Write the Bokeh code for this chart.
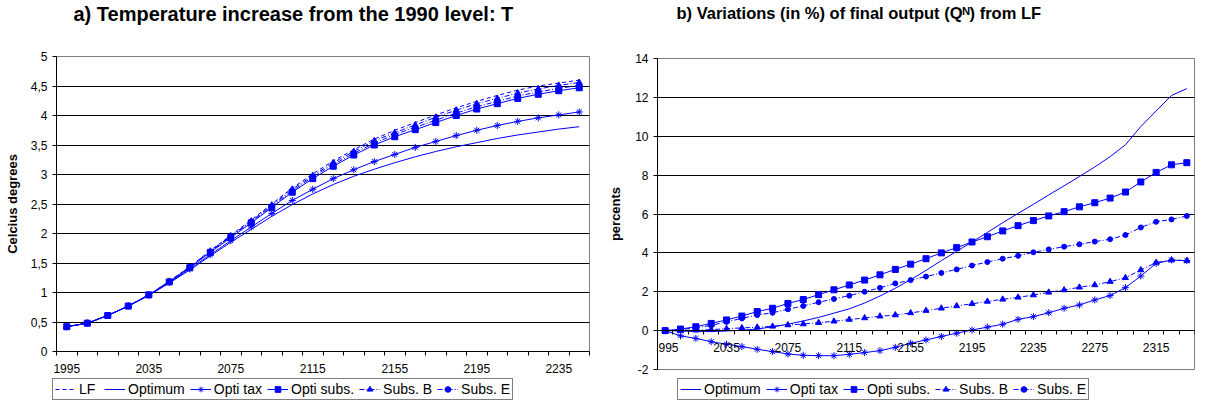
from bokeh.plotting import figure
from bokeh.models import FixedTicker, Legend, LegendItem, Range1d, Title
from bokeh.layouts import row, column
from bokeh.embed import file_html
from bokeh.resources import INLINE

# ---------------- data: chart a ----------------
years_a = [1995, 2005, 2015, 2025, 2035, 2045, 2055, 2065, 2075, 2085, 2095, 2105, 2115,
           2125, 2135, 2145, 2155, 2165, 2175, 2185, 2195, 2205, 2215, 2225, 2235, 2245]
lf_a = [0.42, 0.48, 0.61, 0.77, 0.96, 1.19, 1.44, 1.71, 1.97, 2.23, 2.50, 2.77, 3.01,
        3.23, 3.42, 3.60, 3.75, 3.88, 4.01, 4.13, 4.24, 4.34, 4.43, 4.50, 4.55, 4.60]
optimum_a = [0.42, 0.48, 0.61, 0.77, 0.95, 1.16, 1.38, 1.62, 1.85, 2.07, 2.29, 2.49, 2.67,
             2.83, 2.97, 3.09, 3.20, 3.30, 3.39, 3.47, 3.54, 3.61, 3.67, 3.72, 3.77, 3.81]
optitax_a = [0.42, 0.48, 0.61, 0.77, 0.95, 1.17, 1.40, 1.64, 1.88, 2.11, 2.34, 2.56, 2.75,
             2.93, 3.08, 3.22, 3.34, 3.46, 3.56, 3.66, 3.75, 3.83, 3.90, 3.96, 4.01, 4.06]
optisubs_a = [0.42, 0.48, 0.61, 0.77, 0.96, 1.18, 1.42, 1.68, 1.93, 2.18, 2.44, 2.70, 2.93,
              3.14, 3.33, 3.50, 3.64, 3.76, 3.88, 4.00, 4.11, 4.20, 4.29, 4.36, 4.42, 4.47]
subsb_a = [0.42, 0.48, 0.61, 0.77, 0.96, 1.19, 1.43, 1.70, 1.96, 2.21, 2.48, 2.75, 2.98,
           3.20, 3.39, 3.57, 3.71, 3.84, 3.97, 4.09, 4.20, 4.29, 4.38, 4.45, 4.51, 4.56]
subse_a = [0.42, 0.48, 0.61, 0.77, 0.96, 1.18, 1.43, 1.69, 1.95, 2.20, 2.46, 2.72, 2.96,
           3.17, 3.36, 3.53, 3.68, 3.80, 3.92, 4.04, 4.15, 4.24, 4.33, 4.40, 4.46, 4.51]
xlabels_a = [1995, 2035, 2075, 2115, 2155, 2195, 2235]
yticks_a = [0, 0.5, 1, 1.5, 2, 2.5, 3, 3.5, 4, 4.5, 5]
ylabels_a = ["0", "0,5", "1", "1,5", "2", "2,5", "3", "3,5", "4", "4,5", "5"]
title_a = "a) Temperature increase from the 1990 level: T"
ylabel_a = "Celcius degrees"

# ---------------- data: chart b ----------------
years_b = [1995, 2005, 2015, 2025, 2035, 2045, 2055, 2065, 2075, 2085, 2095, 2105, 2115,
           2125, 2135, 2145, 2155, 2165, 2175, 2185, 2195, 2205, 2215, 2225, 2235, 2245,
           2255, 2265, 2275, 2285, 2295, 2305, 2315, 2325, 2335]
optimum_b = [0, -0.02, -0.05, -0.05, -0.02, 0.02, 0.08, 0.20, 0.33, 0.50, 0.68, 0.90, 1.12,
             1.42, 1.78, 2.18, 2.62, 3.10, 3.60, 4.08, 4.56, 5.05, 5.55, 6.03, 6.50, 6.98,
             7.45, 7.93, 8.42, 8.95, 9.56, 10.5, 11.3, 12.1, 12.45]
optitax_b = [0, -0.27, -0.40, -0.57, -0.70, -0.82, -0.96, -1.08, -1.20, -1.27, -1.29, -1.29,
             -1.22, -1.13, -1.03, -0.86, -0.65, -0.48, -0.30, -0.13, 0.03, 0.18, 0.33, 0.58,
             0.72, 0.92, 1.15, 1.32, 1.58, 1.80, 2.21, 2.81, 3.46, 3.63, 3.60]
optisubs_b = [0, 0.08, 0.20, 0.37, 0.55, 0.75, 0.98, 1.15, 1.40, 1.60, 1.85, 2.10, 2.35,
              2.60, 2.87, 3.15, 3.42, 3.70, 4.00, 4.27, 4.56, 4.83, 5.13, 5.40, 5.66, 5.90,
              6.12, 6.37, 6.58, 6.82, 7.13, 7.65, 8.14, 8.53, 8.64]
subsb_b = [0, 0.0, 0.02, 0.05, 0.10, 0.14, 0.17, 0.22, 0.29, 0.34, 0.41, 0.48, 0.57,
           0.65, 0.74, 0.80, 0.91, 1.03, 1.15, 1.27, 1.38, 1.50, 1.61, 1.71, 1.83, 1.97,
           2.09, 2.23, 2.35, 2.52, 2.72, 3.12, 3.50, 3.63, 3.60]
subse_b = [0, 0.05, 0.14, 0.27, 0.45, 0.63, 0.80, 0.92, 1.10, 1.27, 1.46, 1.63, 1.80,
           2.00, 2.20, 2.43, 2.60, 2.78, 2.97, 3.15, 3.35, 3.53, 3.70, 3.85, 4.03, 4.18,
           4.32, 4.44, 4.58, 4.70, 4.92, 5.31, 5.60, 5.72, 5.90]
xlabels_b = [1995, 2035, 2075, 2115, 2155, 2195, 2235, 2275, 2315]
yticks_b = [-2, 0, 2, 4, 6, 8, 10, 12, 14]
ylabels_b = ["-2", "0", "2", "4", "6", "8", "10", "12", "14"]
title_b = "b) Variations (in %) of final output (Q\u1d3a) from LF"
ylabel_b = "percents"

FONT = "Liberation Sans"
BLUE = "#0000FF"
GRID = "#000000"
DASH_LF = "4 3"
DASH_DD = "5 2 1 2"
SERIES_A = ["LF", "Optimum", "Opti tax", "Opti subs.", "Subs. B", "Subs. E"]
SERIES_B = ["Optimum", "Opti tax", "Opti subs.", "Subs. B", "Subs. E"]


def style_axes(p, xlabels, xbounds, yticks, ylabels, ylabel, label_standoff):
    edges = list(range(xbounds[0], xbounds[1] + 1, 10))
    xa = p.xaxis[0]
    xa.ticker = FixedTicker(ticks=xlabels, minor_ticks=edges)
    xa.major_tick_out = 0
    xa.major_tick_in = 0
    xa.minor_tick_out = 4
    xa.minor_tick_in = 0
    xa.minor_tick_line_color = "black"
    xa.axis_line_color = "black"
    xa.major_label_text_font = FONT
    xa.major_label_text_font_size = "12px"
    xa.major_label_text_color = "black"
    xa.major_label_standoff = 8
    ya = p.yaxis[0]
    ya.ticker = FixedTicker(ticks=yticks)
    ya.major_label_overrides = {t: l for t, l in zip(yticks, ylabels)}
    ya.major_tick_out = 4
    ya.major_tick_in = 0
    ya.minor_tick_out = 0
    ya.minor_tick_in = 0
    ya.axis_line_color = "black"
    ya.major_label_text_font = FONT
    ya.major_label_text_font_size = "12px"
    ya.major_label_text_color = "black"
    ya.major_label_standoff = 5
    ya.axis_label = ylabel
    ya.axis_label_text_font = FONT
    ya.axis_label_text_font_size = "13px"
    ya.axis_label_text_font_style = "bold"
    ya.axis_label_text_color = "black"
    ya.axis_label_standoff = label_standoff
    p.xgrid.visible = False
    p.ygrid.ticker = FixedTicker(ticks=yticks)
    p.ygrid.grid_line_color = GRID
    p.ygrid.grid_line_width = 1


def add_series(p, x, ys, names):
    items = []
    for name in names:
        y = ys[name]
        if name == "LF":
            rs = [p.line(x, y, line_color=BLUE, line_width=1, line_dash=DASH_LF)]
        elif name == "Optimum":
            rs = [p.line(x, y, line_color=BLUE, line_width=1)]
        elif name == "Opti tax":
            rs = [p.line(x, y, line_color=BLUE, line_width=1),
                  p.scatter(x, y, marker="asterisk", size=7, line_color=BLUE, line_width=1)]
        elif name == "Opti subs.":
            rs = [p.line(x, y, line_color=BLUE, line_width=1),
                  p.scatter(x, y, marker="square", size=6, fill_color=BLUE, line_color=BLUE)]
        elif name == "Subs. B":
            rs = [p.line(x, y, line_color=BLUE, line_width=1, line_dash=DASH_DD),
                  p.scatter(x, y, marker="triangle", size=6, fill_color=BLUE, line_color=BLUE)]
        else:
            rs = [p.line(x, y, line_color=BLUE, line_width=1, line_dash=DASH_DD),
                  p.scatter(x, y, marker="circle", size=5, fill_color=BLUE, line_color=BLUE)]
        items.append(LegendItem(label=name, renderers=rs))
    return items


def make_title(text, size, offset):
    return Title(text=text, text_font=FONT, text_font_size=size, text_font_style="bold",
                 text_color="black", align="left", offset=offset, standoff=0)


def legend_figure(width, x, ys, names, x0):
    # a strip holding only the legend; its ranges keep the series themselves out of view
    f = figure(width=width, height=24, x_range=Range1d(0, 1), y_range=Range1d(0, 1),
               x_axis_type=None, y_axis_type=None, toolbar_location=None, output_backend="svg",
               frame_align=False, min_border_left=0, min_border_right=0, min_border_top=0,
               min_border_bottom=0, outline_line_color=None,
               background_fill_color="white", border_fill_color="white")
    items = add_series(f, x, ys, names)
    leg = Legend(items=items, location=(x0, 1), orientation="horizontal",
                 border_line_color="black", border_line_width=1,
                 background_fill_color="white", background_fill_alpha=1,
                 label_text_font=FONT, label_text_font_size="14px", label_text_color="black",
                 glyph_width=21, glyph_height=14, label_height=14, label_standoff=3,
                 spacing=5, padding=2, margin=0)
    f.add_layout(leg)
    return f


data_a = {"LF": lf_a, "Optimum": optimum_a, "Opti tax": optitax_a,
          "Opti subs.": optisubs_a, "Subs. B": subsb_a, "Subs. E": subse_a}
data_b = {"Optimum": optimum_b, "Opti tax": optitax_b, "Opti subs.": optisubs_b,
          "Subs. B": subsb_b, "Subs. E": subse_b}

# ---------------- chart a ----------------
p1 = figure(frame_width=533, frame_height=295, x_range=Range1d(1990, 2250), y_range=Range1d(0, 5),
            output_backend="svg", toolbar_location=None, frame_align=False,
            title=make_title(title_a, "20px", 17),
            min_border_left=56, min_border_right=11, min_border_top=56, min_border_bottom=25,
            background_fill_color="white", border_fill_color="white", outline_line_color="#808080")
p1.add_layout(Title(text=" ", text_font_size="10px", standoff=19), "above")
style_axes(p1, xlabels_a, (1990, 2250), yticks_a, ylabels_a, ylabel_a, 8)
add_series(p1, years_a, data_a, SERIES_A)

# ---------------- chart b ----------------
p2 = figure(frame_width=537, frame_height=311, x_range=Range1d(1990, 2340), y_range=Range1d(-2, 14),
            output_backend="svg", toolbar_location=None, frame_align=False,
            title=make_title(title_b, "16.5px", 19),
            min_border_left=57, min_border_right=2, min_border_top=58, min_border_bottom=8,
            background_fill_color="white", border_fill_color="white", outline_line_color="#808080")
p2.add_layout(Title(text=" ", text_font_size="10px", standoff=24), "above")
style_axes(p2, xlabels_b, (1990, 2340), yticks_b, ylabels_b, ylabel_b, 9)
p2.xaxis[0].fixed_location = 0
add_series(p2, years_b, data_b, SERIES_B)

lg1 = legend_figure(600, years_a, data_a, SERIES_A, 52)
lg2 = legend_figure(596, years_b, data_b, SERIES_B, 77)

layout = column(row(p1, p2), row(lg1, lg2))
open("out.html", "w").write(file_html(layout, INLINE))
